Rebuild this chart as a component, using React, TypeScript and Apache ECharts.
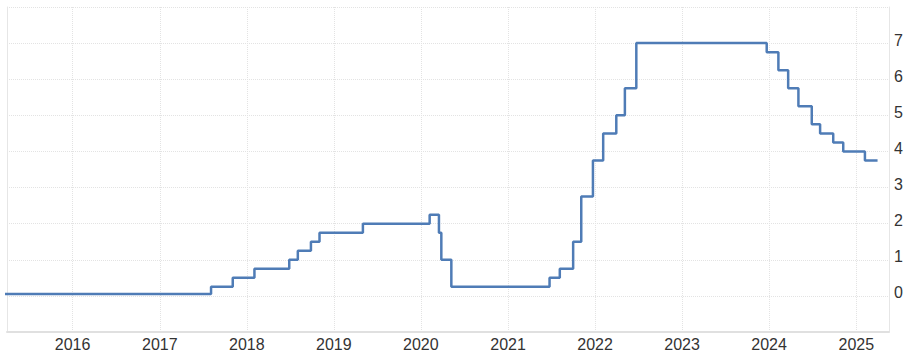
import React, { useEffect, useRef } from "react";
import * as echarts from "echarts";

const changeDates = [
  "2012-11-02", "2017-08-04", "2017-11-03", "2018-02-02", "2018-06-28", "2018-08-03",
  "2018-09-27", "2018-11-02", "2019-05-03", "2020-02-07", "2020-03-17", "2020-03-27",
  "2020-05-08", "2021-06-24", "2021-08-06", "2021-10-01", "2021-11-04", "2021-12-23",
  "2022-02-04", "2022-03-31", "2022-05-06", "2022-06-23", "2023-12-22", "2024-02-09",
  "2024-03-21", "2024-05-03", "2024-06-28", "2024-08-02", "2024-09-26", "2024-11-07",
  "2025-02-06", "2025-03-31",
];
const rates = [
  0.05, 0.25, 0.5, 0.75, 1.0, 1.25,
  1.5, 1.75, 2.0, 2.25, 1.75, 1.0,
  0.25, 0.5, 0.75, 1.5, 2.75, 3.75,
  4.5, 5.0, 5.75, 7.0, 6.75, 6.25,
  5.75, 5.25, 4.75, 4.5, 4.25, 4.0,
  3.75, 3.75,
];
const xMin = "2015-04-01";
const xMax = "2025-05-18";
const yTicks = [0, 1, 2, 3, 4, 5, 6, 7];

export default function App() {
  const ref = useRef<HTMLDivElement>(null);
  useEffect(() => {
    if (!ref.current) return;
    const chart = echarts.init(ref.current, null, { renderer: "svg" });
    const data = changeDates.map((d, i) => [d, rates[i]]);
    const gridColor = "#e3e3e3";
    const font = "Liberation Sans, Arial, sans-serif";
    chart.setOption({
      animation: false,
      grid: { left: 7, right: 23, top: 7, bottom: 25, containLabel: false },
      xAxis: {
        type: "time",
        min: xMin,
        max: xMax,
        minInterval: 365 * 24 * 3600 * 1000,
        maxInterval: 366 * 24 * 3600 * 1000,
        axisLine: { show: true, onZero: false, lineStyle: { color: "#e0e0e0", width: 2 } },
        axisTick: { show: false },
        axisLabel: {
          formatter: "{yyyy}",
          color: "#333",
          fontSize: 16,
          fontFamily: font,
          margin: 4,
          hideOverlap: false,
          showMinLabel: false,
          showMaxLabel: false,
        },
        splitLine: { show: true, lineStyle: { color: gridColor, type: "dotted", width: 1 } },
      },
      yAxis: [
        {
          type: "value",
          position: "right",
          min: -1,
          max: 8,
          interval: 1,
          axisLine: { show: true, onZero: false, lineStyle: { color: "#e6e6e6", width: 1 } },
          axisTick: { show: false },
          axisLabel: {
            color: "#333",
            fontSize: 16,
            fontFamily: font,
            margin: 5,
            verticalAlign: "bottom",
            lineHeight: 6,
            formatter: (v: number) => (yTicks.includes(v) ? String(v) : ""),
          },
          splitLine: { show: true, lineStyle: { color: gridColor, type: "dotted", width: 1 } },
        },
        {
          type: "value",
          position: "left",
          min: -1,
          max: 8,
          interval: 1,
          axisLine: { show: true, onZero: false, lineStyle: { color: "#e6e6e6", width: 1 } },
          axisTick: { show: false },
          axisLabel: { show: false },
          splitLine: { show: false },
        },
      ],
      series: [
        {
          type: "line",
          step: "end",
          data,
          yAxisIndex: 0,
          showSymbol: false,
          clip: true,
          lineStyle: { color: "#4f7cb6", width: 2.5 },
        },
      ],
    });
    return () => chart.dispose();
  }, []);
  return (
    <div
      ref={ref}
      style={{ position: "fixed", left: 0, top: 0, width: 912, height: 357, background: "#fff" }}
    />
  );
}
